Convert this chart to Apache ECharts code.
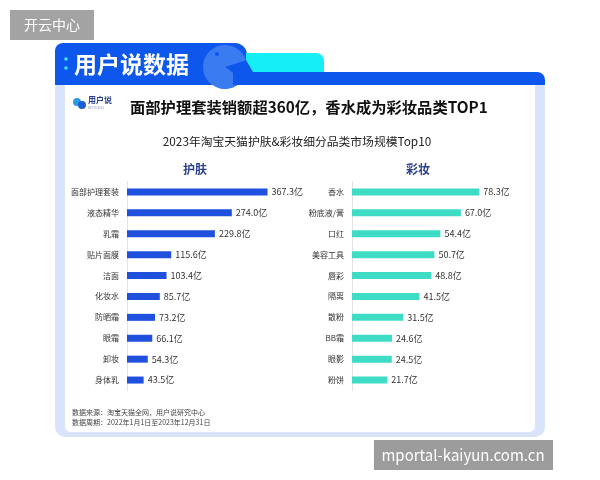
<!DOCTYPE html>
<html>
<head>
<meta charset="utf-8">
<script src="https://cdn.jsdelivr.net/npm/echarts@6/dist/echarts.min.js"></script>
<style>
  html, body { margin: 0; padding: 0; background: #fff; }
  #chart { width: 600px; height: 480px; }
</style>
</head>
<body>
<div id="chart"></div>
<script>
// 护肤 Top10
const skinCats = ['面部护理套装', '液态精华', '乳霜', '贴片面膜', '洁面', '化妆水', '防晒霜', '眼霜', '卸妆', '身体乳'];
const skinVals = [367.3, 274.0, 229.8, 115.6, 103.4, 85.7, 73.2, 66.1, 54.3, 43.5];
// 彩妆 Top10
const makeupCats = ['香水', '粉底液/膏', '口红', '美容工具', '唇彩', '隔离', '散粉', 'BB霜', '眼影', '粉饼'];
const makeupVals = [78.3, 67.0, 54.4, 50.7, 48.8, 41.5, 31.5, 24.6, 24.5, 21.7];

(function() {
    const FONT = '"Noto Sans CJK SC", "Noto Sans", sans-serif';
    const chart = echarts.init(document.getElementById('chart'), null, { renderer: 'canvas' });

    function yAxisFor(cats, idx) {
        return {
            type: 'category',
            gridIndex: idx,
            data: cats,
            inverse: true,
            axisLine: { lineStyle: { color: '#e3e3e3', width: 1 } },
            axisTick: { show: false },
            axisLabel: { color: '#333', fontSize: 8, margin: 8, fontFamily: FONT }
        };
    }

    function barSeries(vals, idx, color) {
        return {
            type: 'bar',
            xAxisIndex: idx,
            yAxisIndex: idx,
            data: vals,
            barWidth: 7,
            itemStyle: { color: color },
            label: {
                show: true,
                position: 'right',
                distance: 4,
                color: '#333',
                fontSize: 9,
                fontFamily: FONT,
                formatter: p => p.value.toFixed(1) + '亿'
            }
        };
    }

    const option = {
        backgroundColor: '#fff',
        animation: false,
        textStyle: { fontFamily: FONT },
        grid: [
            { left: 127, top: 181.5, width: 153, height: 209, outerBoundsMode: 'none' },
            { left: 352, top: 181.5, width: 162.5, height: 209, outerBoundsMode: 'none' }
        ],
        xAxis: [
            { type: 'value', gridIndex: 0, min: 0, max: 400, show: false },
            { type: 'value', gridIndex: 1, min: 0, max: 100, show: false }
        ],
        yAxis: [yAxisFor(skinCats, 0), yAxisFor(makeupCats, 1)],
        series: [
            barSeries(skinVals, 0, '#2050de'),
            barSeries(makeupVals, 1, '#3edcc4')
        ],
        graphic: [
            // 卡片外框
            { type: 'rect', z: -10, shape: { x: 55, y: 78, width: 490, height: 359, r: 10 }, style: { fill: '#d9e4fb' } },
            { type: 'rect', z: -9, shape: { x: 65, y: 85, width: 470, height: 347, r: [0, 0, 6, 6] }, style: { fill: '#fff' } },
            // 顶部标签
            { type: 'rect', z: -8, shape: { x: 55, y: 43, width: 192, height: 42, r: [8, 12, 0, 0] }, style: { fill: '#0d57ec' } },
            { type: 'sector', z: -7, shape: { cx: 225, cy: 67, r: 22, r0: 0, startAngle: Math.PI * 0.2, endAngle: Math.PI * 1.9, clockwise: true }, style: { fill: '#3a7bf1' } },
            { type: 'circle', z: -6, shape: { cx: 217, cy: 54, r: 2 }, style: { fill: '#0d57ec' } },
            { type: 'rect', z: -7, shape: { x: 246, y: 53, width: 78, height: 25, r: [0, 8, 0, 0] }, style: { fill: '#14eef4' } },
            { type: 'polygon', z: -6, shape: { points: [[233, 72], [246, 60], [253, 72]] }, style: { fill: '#0d57ec' } },
            { type: 'rect', z: -6, shape: { x: 233, y: 72, width: 312, height: 13, r: [0, 8, 0, 0] }, style: { fill: '#0d57ec' } },
            { type: 'circle', z: -5, shape: { cx: 66, cy: 59, r: 1.8 }, style: { fill: '#3fe3f2' } },
            { type: 'circle', z: -5, shape: { cx: 66, cy: 68, r: 1.8 }, style: { fill: '#3fe3f2' } },
            { type: 'text', z: -5, x: 74, y: 64, style: { text: '用户说数据', fill: '#fff', font: 'bold 23px ' + FONT, textVerticalAlign: 'middle' } },
            // logo
            { type: 'circle', z: -5, shape: { cx: 77, cy: 102, r: 4 }, style: { fill: '#2a9be8' } },
            { type: 'circle', z: -5, shape: { cx: 82, cy: 105, r: 4 }, style: { fill: '#1c5fd6' } },
            { type: 'text', z: -5, x: 88, y: 100, style: { text: '用户说', fill: '#2a3f8f', font: 'bold 8px ' + FONT, textVerticalAlign: 'middle' } },
            { type: 'text', z: -5, x: 88, y: 108, style: { text: 'NETVOICES', fill: '#8090b0', font: '3px ' + FONT, textVerticalAlign: 'middle' } },
            // 标题
            { type: 'text', x: 130, y: 107, style: { text: '面部护理套装销额超360亿，香水成为彩妆品类TOP1', fill: '#111', font: 'bold 15.3px ' + FONT, textVerticalAlign: 'middle' } },
            { type: 'text', x: 297, y: 142, style: { text: '2023年淘宝天猫护肤&彩妆细分品类市场规模Top10', fill: '#222', font: '11.8px ' + FONT, textAlign: 'center', textVerticalAlign: 'middle' } },
            { type: 'text', x: 195, y: 169, style: { text: '护肤', fill: '#2b3f8f', font: 'bold 12px ' + FONT, textAlign: 'center', textVerticalAlign: 'middle' } },
            { type: 'text', x: 418, y: 169, style: { text: '彩妆', fill: '#2b3f8f', font: 'bold 12px ' + FONT, textAlign: 'center', textVerticalAlign: 'middle' } },
            // 数据说明
            { type: 'text', x: 72, y: 412, style: { text: '数据来源：淘宝天猫全网，用户说研究中心', fill: '#444', font: '7px ' + FONT, textVerticalAlign: 'middle' } },
            { type: 'text', x: 72, y: 422, style: { text: '数据周期：2022年1月1日至2023年12月31日', fill: '#444', font: '7px ' + FONT, textVerticalAlign: 'middle' } },
            // 水印
            { type: 'rect', shape: { x: 10, y: 10, width: 84, height: 30 }, style: { fill: '#a3a3a3' } },
            { type: 'text', x: 52, y: 25, style: { text: '开云中心', fill: '#fff', font: '14px ' + FONT, textAlign: 'center', textVerticalAlign: 'middle' } },
            { type: 'rect', shape: { x: 374, y: 440, width: 179, height: 30 }, style: { fill: '#9c9c9c' } },
            { type: 'text', x: 463, y: 455, style: { text: 'mportal-kaiyun.com.cn', fill: '#fff', font: '15px ' + FONT, textAlign: 'center', textVerticalAlign: 'middle' } }
        ]
    };

    chart.setOption(option);
}());
</script>
</body>
</html>
